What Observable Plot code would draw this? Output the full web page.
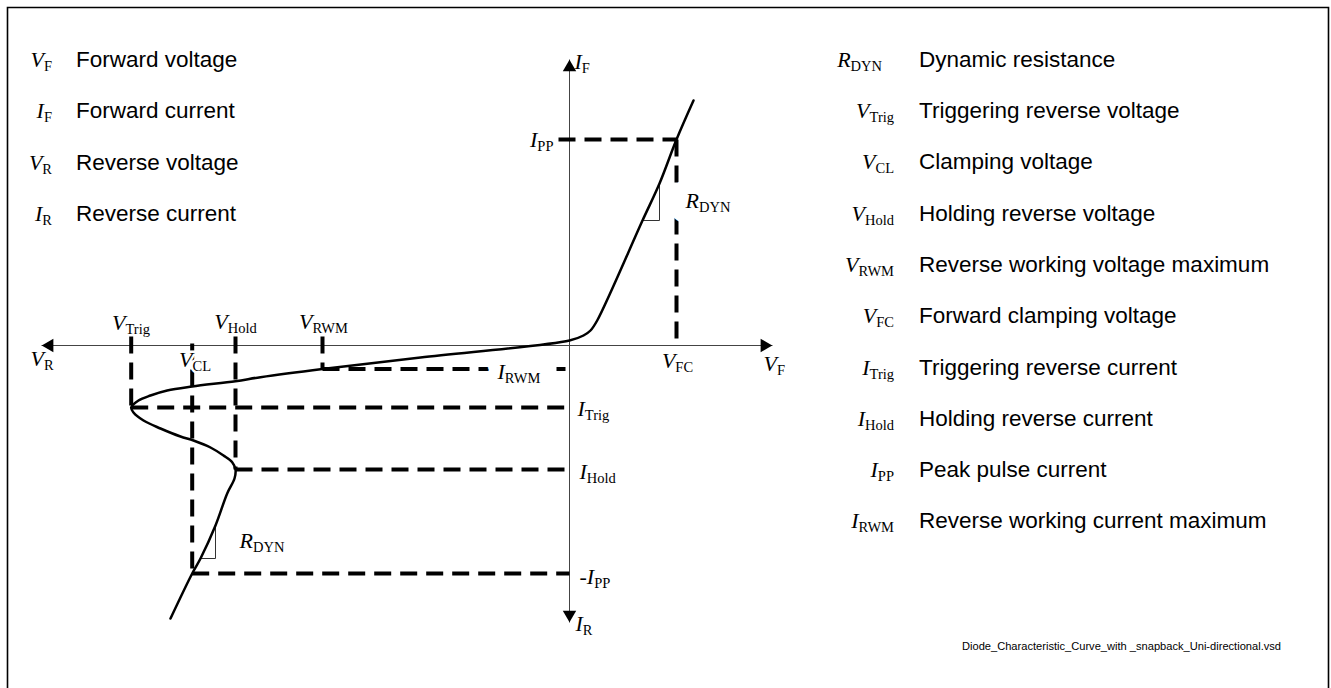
<!DOCTYPE html>
<html><head><meta charset="utf-8">
<script src="https://cdn.jsdelivr.net/npm/d3@7"></script>
<script src="https://cdn.jsdelivr.net/npm/@observablehq/plot@0.6"></script>
<style>
html,body{margin:0;padding:0;background:#fff;}
#wrap{position:relative;width:1331px;height:688px;overflow:hidden;}
#wrap svg{position:absolute;left:0;top:0;}
</style></head><body><div id="wrap"></div>
<script>
// ---- characteristic curve (arbitrary voltage / current units) ----
const curveV = [-39.9, -37.73, -36.9, -35.4, -34.23, -33.5, -33.4, -33.73, -34.6, -35.9, -37.6, -38.9, -40.9, -42.6, -43.6, -43.83, -43.1, -41.9, -40.23, -37.73, -33.4, -30.9, -24.7, -14.9, 0, 1.4, 2.1, 2.77, 7.3, 9.0, 10.7, 12.4];
const curveI = [-27.3, -22.8, -21.3, -18.0, -14.8, -13.3, -12.4, -11.67, -11.0, -10.2, -9.5, -9.1, -8.3, -7.5, -6.7, -6.2, -5.5, -5.0, -4.5, -4.1, -3.57, -3.17, -2.35, -1.2, 0.5, 1.0, 1.5, 2.5, 12.5, 16.2, 20.6, 24.5];

// ---- key levels ----
const levelNames = ["V_FC", "I_PP", "V_RWM", "I_RWM", "V_CL", "V_Hold", "I_Hold", "V_Trig", "I_Trig", "-I_PP"];
const levelValues = [10.7, 20.6, -24.7, -2.35, -37.73, -33.4, -12.4, -43.83, -6.2, -22.8];
const L = Object.fromEntries(levelNames.map((n, i) => [n, levelValues[i]]));

// ---- dashed guide segments (from -> to) ----
const guideV1 = [-1.1, L.V_FC, L.V_RWM, L.V_RWM, L.V_Trig, L.V_Trig, L.V_Hold, L.V_Hold, L.V_CL, L.V_CL];
const guideI1 = [L.I_PP, L.I_PP, L.I_RWM, 0.9, 0.9, L.I_Trig, 0.9, L.I_Hold, 0.2, L["-I_PP"]];
const guideV2 = [L.V_FC, L.V_FC, -0.4, L.V_RWM, L.V_Trig, 0, L.V_Hold, 0, L.V_CL, 0];
const guideI2 = [L.I_PP, 0, L.I_RWM, L.I_RWM, L.I_Trig, L.I_Trig, L.I_Hold, L.I_Hold, L["-I_PP"], L["-I_PP"]];

// ---- axes (tip to tip) ----
const axisV1 = [-52.8, 0];
const axisI1 = [0, 28.6];
const axisV2 = [20.3, 0];
const axisI2 = [0, -27.7];

// ---- slope triangles (R_DYN) ----
const triV = [9.0, 9.0, 7.3, -35.4, -35.4, -36.9];
const triI = [16.2, 12.5, 12.5, -18.0, -21.3, -21.3];
const triGroup = ["fwd", "fwd", "fwd", "rev", "rev", "rev"];

// ---- labels in the diagram ("main|subscript") ----
const labelText = ["V|Trig", "V|Hold", "V|RWM", "V|CL", "V|R", "V|F", "V|FC", "I|F", "I|PP", "R|DYN", "I|RWM", "I|Trig", "I|Hold", "-I|PP", "I|R", "R|DYN"];
const labelV = [-43.85, -33.4, -24.6, -37.45, -53.9, 19.4, 10.8, 0.5, -1.6, 11.6, -7.2, 0.8, 1.0, 1.0, 0.6, -33.0];
const labelI = [1.6, 1.7, 1.7, -2.17, -2.0, -2.5, -2.2, 27.7, 19.9, 13.8, -3.3, -7.0, -13.3, -23.8, -28.5, -20.2];
const labelAnchor = ["middle", "middle", "middle", "middle", "start", "start", "middle", "start", "end", "start", "start", "start", "start", "start", "start", "start"];

// ---- legends ----
const legendLeftSym = ["V|F", "I|F", "V|R", "I|R"];
const legendLeftText = ["Forward voltage", "Forward current", "Reverse voltage", "Reverse current"];
const legendRightSym = ["R|DYN", "V|Trig", "V|CL", "V|Hold", "V|RWM", "V|FC", "I|Trig", "I|Hold", "I|PP", "I|RWM"];
const legendRightText = ["Dynamic resistance", "Triggering reverse voltage", "Clamping voltage", "Holding reverse voltage", "Reverse working voltage maximum", "Forward clamping voltage", "Triggering reverse current", "Holding reverse current", "Peak pulse current", "Reverse working current maximum"];
const captionText = "Diode_Characteristic_Curve_with _snapback_Uni-directional.vsd";

// ---- build tables ----
const curve = curveV.map((v, i) => ({v, i: curveI[i]}));
const guides = guideV1.map((v, k) => ({v1: v, i1: guideI1[k], v2: guideV2[k], i2: guideI2[k]}));
const axes = axisV1.map((v, k) => ({v1: v, i1: axisI1[k], v2: axisV2[k], i2: axisI2[k]}));
const tris = triV.map((v, k) => ({v, i: triI[k], g: triGroup[k]}));
const labels = labelText.map((t, k) => ({t, v: labelV[k], i: labelI[k], a: labelAnchor[k], k}));
const arrows = [
  {v: axisV1[0], i: 0, rot: -90, dx: 8, dy: 0},
  {v: axisV2[0], i: 0, rot: 90, dx: -8, dy: 0},
  {v: 0, i: axisI1[1], rot: 0, dx: 0, dy: 8},
  {v: 0, i: axisI2[1], rot: 180, dx: 0, dy: -8}
];

const haloWidth = {3: 5, 9: 30, 10: 24};
const textOpts = {fontFamily: "Liberation Serif", fontSize: 22, lineAnchor: "bottom"};
function labelMarks(data, extra) {
  return ["start", "middle", "end"].map(a => Plot.text(data.filter(d => d.a === a), {
    x: "v", y: "i", text: "t", textAnchor: a, ...textOpts, ...extra
  }));
}
const haloMarks = Object.entries(haloWidth).flatMap(([k, w]) =>
  labelMarks(labels.filter(d => d.k === +k), {fill: "white", stroke: "white", strokeWidth: w, strokeLinejoin: "round"}));

const plot = Plot.plot({
  width: 1331, height: 688,
  marginTop: 0, marginRight: 0, marginBottom: 0, marginLeft: 0,
  x: {domain: [-56.9, 76.2], axis: null},
  y: {domain: [-34.3, 34.5], axis: null},
  marks: [
    Plot.link(axes, {x1: "v1", y1: "i1", x2: "v2", y2: "i2", stroke: "#444", strokeWidth: 1}),
    Plot.link(guides, {x1: "v1", y1: "i1", x2: "v2", y2: "i2", stroke: "black", strokeWidth: 4, strokeDasharray: "17,9"}),
    Plot.line(tris, {x: "v", y: "i", z: "g", stroke: "#333", strokeWidth: 1}),
    Plot.line(curve, {x: "v", y: "i", curve: "catmull-rom", stroke: "black", strokeWidth: 2.5}),
    ...arrows.map(a => Plot.dot([a], {x: "v", y: "i", symbol: "triangle2", r: 6.4, fill: "black", stroke: "none", rotate: a.rot, dx: a.dx, dy: a.dy})),
    ...haloMarks,
    ...labelMarks(labels, {fill: "black"})
  ]
});

// turn "main|sub" into italic letter + subscript
function subscriptify(sel) {
  sel.each(function () {
    const txt = this.textContent;
    if (!txt.includes("|")) return;
    const [m, s] = txt.split("|");
    this.textContent = "";
    const t = d3.select(this);
    t.append("tspan").attr("font-style", "italic").text(m);
    t.append("tspan").attr("font-size", 14.5).attr("dy", 4).text(s);
  });
}
subscriptify(d3.select(plot).selectAll("text"));
document.getElementById("wrap").appendChild(plot);

// ---- overlay: frame, legends, caption ----
const ov = d3.select("#wrap").append("svg").attr("width", 1331).attr("height", 688);
ov.append("path").attr("d", "M7.5,700V7.5H1328.5V700").attr("fill", "none").attr("stroke", "black").attr("stroke-width", 1.6);

function legendRow(sym, desc, symX, descX, y) {
  const s = ov.append("text").attr("x", symX).attr("y", y).attr("text-anchor", "end")
    .attr("font-family", "Liberation Serif").attr("font-size", 22).text(sym);
  subscriptify(s);
  ov.append("text").attr("x", descX).attr("y", y).attr("font-family", "Liberation Sans")
    .attr("font-size", 22.5).text(desc);
}
const rowStep = 51.3;
legendLeftSym.forEach((s, k) => legendRow(s, legendLeftText[k], 52, 76, 67 + rowStep * k));
legendRightSym.forEach((s, k) => legendRow(s, legendRightText[k], k === 0 ? 882 : 894, 919, 66.7 + rowStep * k));

ov.append("text").attr("x", 1281).attr("y", 650).attr("text-anchor", "end")
  .attr("font-family", "Liberation Sans").attr("font-size", 10.5)
  .attr("textLength", 319).attr("lengthAdjust", "spacingAndGlyphs").text(captionText);
</script></body></html>
